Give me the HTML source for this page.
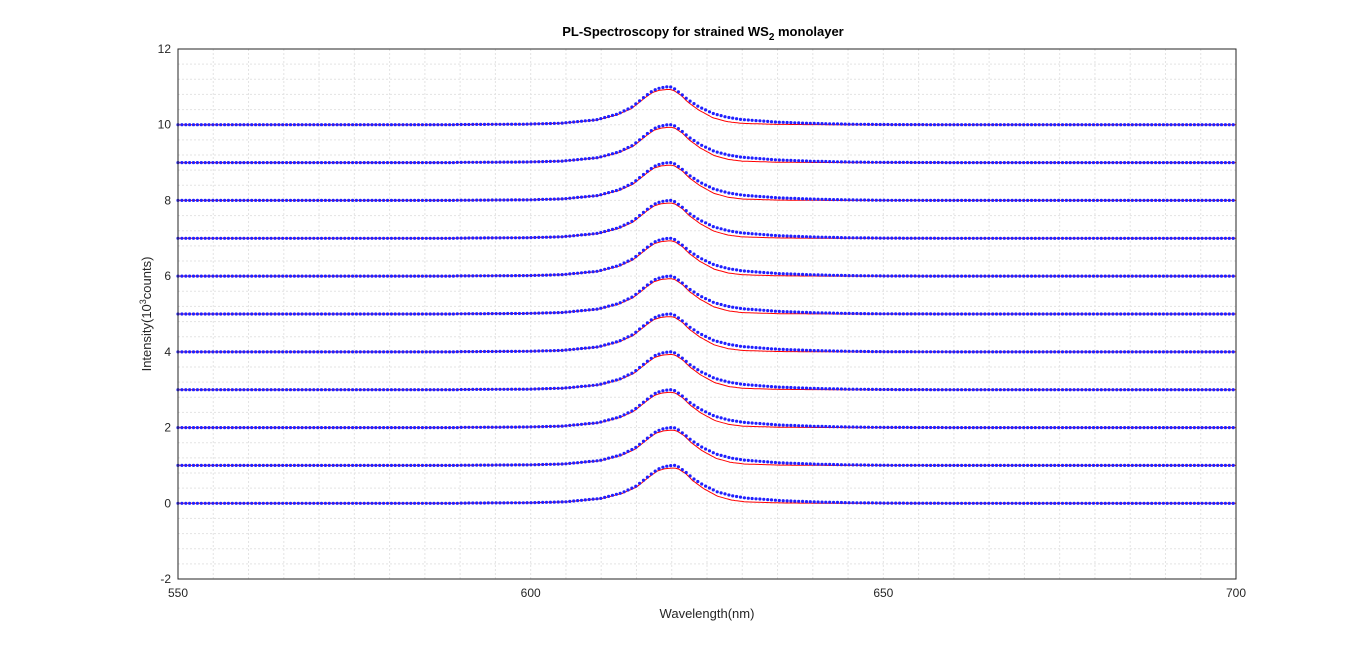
<!DOCTYPE html>
<html><head><meta charset="utf-8"><style>
body{margin:0;background:#fff;}
svg{display:block;font-family:"Liberation Sans",sans-serif;}
</style></head><body>
<svg id="chart" width="1366" height="651" viewBox="0 0 1366 651" xmlns="http://www.w3.org/2000/svg">
<rect width="1366" height="651" fill="#fff"/>
<g id="grid"></g>
<g id="series"></g>
<rect x="178" y="49" width="1058" height="530" fill="none" stroke="#262626" stroke-width="1"/>
<g id="ticks" font-size="12" fill="#262626"></g>
<text x="703" y="36" text-anchor="middle" font-size="13" font-weight="bold" fill="#000">PL-Spectroscopy for strained WS<tspan dy="4" font-size="10">2</tspan><tspan dy="-4"> monolayer</tspan></text>
<text x="707" y="618" text-anchor="middle" font-size="13" fill="#262626">Wavelength(nm)</text>
<text transform="translate(151,314) rotate(-90)" text-anchor="middle" font-size="13" fill="#262626">Intensity(10<tspan dy="-5" font-size="9">3</tspan><tspan dy="5">counts)</tspan></text>
</svg>
<script>
const offsets=[0,1,2,3,4,5,6,7,8,9,10];
const centers=[620,619.8,619.6,619.6,619.5,619.5,619.5,619.5,619.5,619.5,619.3];
const dataAmp=[1.0,1.0,1.0,1.0,1.0,1.0,1.0,1.0,1.0,1.0,1.0];
const fitAmp=[0.93,0.93,0.93,0.93,0.93,0.93,0.93,0.93,0.93,0.93,0.93];
const profDx=[-30,-20,-15,-10,-7,-5,-3,-2,-1,0,0.5,1,2,3,4.5,6.5,8.5,10.5,15.5,20.5,25.5,30.5,40];
const dataProf=[0.005,0.015,0.04,0.13,0.28,0.46,0.76,0.9,0.97,1.0,1.0,0.96,0.82,0.66,0.48,0.3,0.2,0.14,0.07,0.035,0.015,0.005,0];
const fitProf=[0.005,0.015,0.04,0.13,0.28,0.46,0.78,0.92,0.98,1.0,1.0,0.97,0.84,0.64,0.42,0.2,0.09,0.04,0.01,0.003,0,0,0];
const xTicks=[550,600,650,700];
const yTicks=[-2,0,2,4,6,8,10,12];
const X=v=>178+(v-550)*1058/150, Y=v=>579-(v+2)*530/14;
const NS="http://www.w3.org/2000/svg";
function mk(t,a,p){const e=document.createElementNS(NS,t);for(const k in a)e.setAttribute(k,a[k]);p.appendChild(e);return e;}
function interp(dx,prof){if(dx<=profDx[0]||dx>=profDx[profDx.length-1])return 0;
for(let i=0;i<profDx.length-1;i++){if(dx>=profDx[i]&&dx<=profDx[i+1]){const t=(dx-profDx[i])/(profDx[i+1]-profDx[i]);return prof[i]+t*(prof[i+1]-prof[i]);}}return 0;}
const grid=document.getElementById('grid');
for(let w=555;w<700;w+=5){const l=mk('line',{x1:X(w),x2:X(w),y1:49,y2:579,stroke:'#e3e3e3','stroke-dasharray':'2,2'},grid);
}
for(let k=1;k<35;k++){const v=-2+k*0.4;const l=mk('line',{x1:178,x2:1236,y1:Y(v),y2:Y(v),stroke:'#e3e3e3','stroke-dasharray':'2,2'},grid);
}
const ticks=document.getElementById('ticks');
xTicks.forEach(v=>{const t=mk('text',{x:X(v),y:597,'text-anchor':'middle'},ticks);t.textContent=v;
});
yTicks.forEach(v=>{const t=mk('text',{x:171,y:Y(v)+4,'text-anchor':'end'},ticks);t.textContent=v;
});
const ser=document.getElementById('series');
offsets.forEach((o,i)=>{
 const g=mk('g',{},ser);
 let dots='';let fit='';
 for(let k=0;k<=600;k++){const w=550+k*0.25;const y=Y(o+fitAmp[i]*interp(w-centers[i],fitProf));fit+=(fit?'L':'M')+X(w).toFixed(1)+','+y.toFixed(1);}
 for(let k=0;k<=272;k++){const w=550+k*0.55;const x=X(w),y=Y(o+dataAmp[i]*interp(w-centers[i],dataProf));
  dots+='M'+(x-1.6).toFixed(1)+','+y.toFixed(1)+'a1.6,1.6 0 1,0 3.2,0a1.6,1.6 0 1,0 -3.2,0';}
 const f=mk('path',{d:fit,fill:'none',stroke:'#ff0000','stroke-width':1},g);
 
 const d=mk('path',{d:dots,fill:'#2020ff',stroke:'none'},g);
 
});
</script>
</body></html>
